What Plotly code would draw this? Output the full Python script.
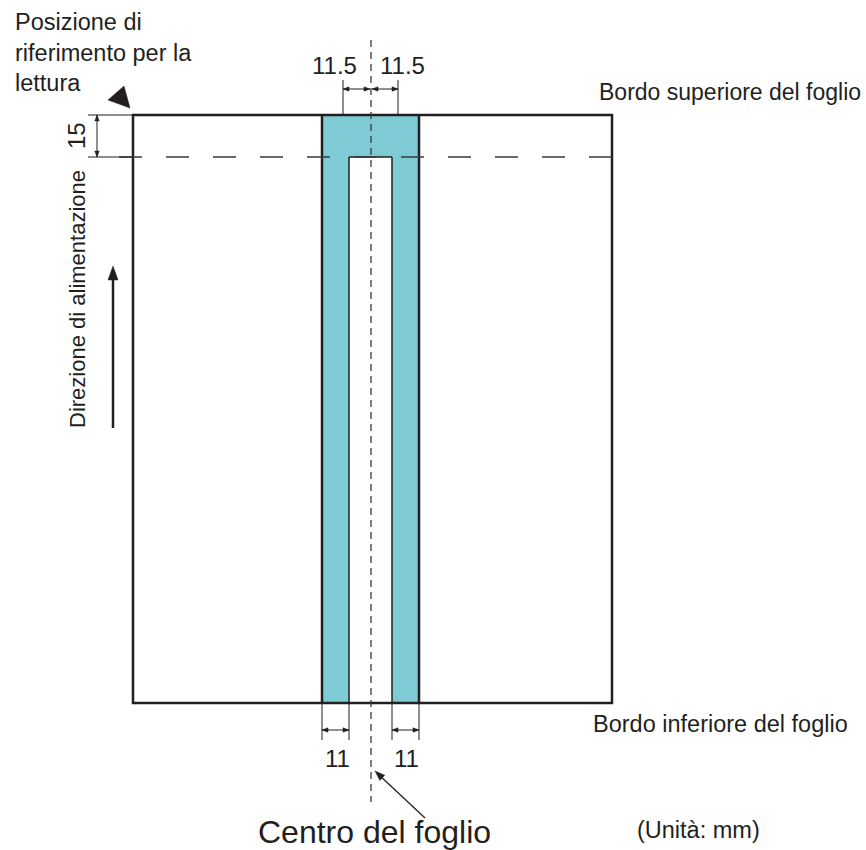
import math
import plotly.graph_objects as go

# ---- texts / dimension labels ----
labels_top = ["11.5", "11.5"]
labels_bottom = ["11", "11"]
label_side = "15"
title_ref = "Posizione di<br>riferimento per la<br>lettura"
label_top_edge = "Bordo superiore del foglio"
label_bottom_edge = "Bordo inferiore del foglio"
label_feed = "Direzione di alimentazione"
label_center = "Centro del foglio"
label_unit = "(Unità: mm)"

# ---- geometry (diagram coordinates, y downward) ----
sheet_x = [133, 612]
sheet_y = [115, 703]
blue_x = [322, 419]
white_x = [349, 392]
read_line_y = 157
center_x = 371
top_dim_x = [343, 398]

DARK = "#231f20"
BLUE = "#7ECBD6"
FONT = "Liberation Sans, Arial, sans-serif"

fig = go.Figure()
shapes = []
annots = []


def line(x0, y0, x1, y1, w=1.0, color=DARK, dash="solid"):
    shapes.append(dict(type="line", x0=x0, y0=y0, x1=x1, y1=y1, xref="x", yref="y",
                       line=dict(color=color, width=w, dash=dash), layer="above"))


def poly(pts, color=DARK):
    p = "M " + " L ".join(f"{a},{b}" for a, b in pts) + " Z"
    shapes.append(dict(type="path", path=p, xref="x", yref="y", fillcolor=color,
                       line=dict(color=color, width=0.5), layer="above"))


def head(xt, yt, dx, dy, L=6, hw=2.2):
    bx, by = xt - dx * L, yt - dy * L
    px, py = -dy * hw, dx * hw
    poly([(xt, yt), (bx + px, by + py), (bx - px, by - py)])


def dim(x0, y0, x1, y1):
    line(x0, y0, x1, y1, 1)
    d = math.hypot(x1 - x0, y1 - y0)
    ux, uy = (x1 - x0) / d, (y1 - y0) / d
    head(x1, y1, ux, uy)
    head(x0, y0, -ux, -uy)


def text(x, y, s, size=23.5, angle=0, xanchor="center", yanchor="middle", align="center"):
    annots.append(dict(x=x, y=y, xref="x", yref="y", text=s, showarrow=False, textangle=angle,
                       xanchor=xanchor, yanchor=yanchor, align=align,
                       font=dict(family=FONT, size=size, color=DARK)))


# blue band and white inner slot
shapes.append(dict(type="rect", x0=blue_x[0], x1=blue_x[1], y0=sheet_y[0], y1=sheet_y[1],
                   xref="x", yref="y", fillcolor=BLUE, line=dict(width=0), layer="below"))
shapes.append(dict(type="rect", x0=white_x[0], x1=white_x[1], y0=read_line_y, y1=sheet_y[1],
                   xref="x", yref="y", fillcolor="white", line=dict(width=0), layer="below"))

# inner slot edges
line(white_x[0], read_line_y, white_x[0], sheet_y[1], 1.5)
line(white_x[1], read_line_y, white_x[1], sheet_y[1], 1.5)
line(white_x[0], read_line_y, white_x[1], read_line_y, 1.5)
# blue outer edges
line(blue_x[0], sheet_y[0], blue_x[0], sheet_y[1], 2.5)
line(blue_x[1], sheet_y[0], blue_x[1], sheet_y[1], 2.5)

# sheet outline
shapes.append(dict(type="rect", x0=sheet_x[0], x1=sheet_x[1], y0=sheet_y[0], y1=sheet_y[1],
                   xref="x", yref="y", line=dict(color=DARK, width=2.5), layer="above"))

# reading line (dashed)
line(sheet_x[0] - 14, read_line_y, sheet_x[1], read_line_y, 1.3, "#3a3a3a", "23px,24px")

# center line (dashed)
line(center_x, 40, center_x, 802, 1.3, "#3a3a3a", "7px,5px")

# 15 dimension
line(88, sheet_y[0], sheet_x[0], sheet_y[0], 1)
line(88, read_line_y, sheet_x[0], read_line_y, 1)
dim(97, sheet_y[0], 97, read_line_y)
text(76, 136, label_side, size=24, angle=-90)

# top 11.5 dimensions
for xx in top_dim_x:
    line(xx, 80, xx, sheet_y[0], 1)
dim(top_dim_x[0], 89, center_x - 1, 89)
dim(center_x + 1, 89, top_dim_x[1], 89)
text(334, 65, labels_top[0], size=24)
text(402, 65, labels_top[1], size=24)

# bottom 11 dimensions
for xx in [blue_x[0], white_x[0], white_x[1], blue_x[1]]:
    line(xx, sheet_y[1], xx, 740, 1)
dim(blue_x[0], 730, white_x[0], 730)
dim(white_x[1], 730, blue_x[1], 730)
text(337, 758, labels_bottom[0], size=24)
text(406, 758, labels_bottom[1], size=24)

# reference triangle
poly([(124, 86), (108, 100), (130, 108)])

# feed direction arrow
line(113, 428, 113, 278, 2.5)
head(113, 266, 0, -1, L=14, hw=5)

# centre pointer arrow
line(425, 818, 378, 774, 1.3)
_d = math.hypot(425 - 375, 818 - 771)
head(375, 771, (375 - 425) / _d, (771 - 818) / _d, L=10, hw=3.5)

# texts
text(13, 7, title_ref, xanchor="left", yanchor="top", align="left")
text(597, 92, label_top_edge, size=23)
annots[-1].update(xanchor="left")
text(591, 724, label_bottom_edge, xanchor="left")
text(77, 299, label_feed, size=22, angle=-90)
text(374, 832, label_center, size=32)
text(698, 830, label_unit)

fig.update_layout(
    width=866, height=850, margin=dict(l=0, r=0, t=0, b=0),
    paper_bgcolor="white", plot_bgcolor="white", showlegend=False,
    xaxis=dict(range=[0, 866], visible=False, fixedrange=True),
    yaxis=dict(range=[850, 0], visible=False, fixedrange=True),
    shapes=shapes, annotations=annots,
)
fig.write_html("out.html", config={"displayModeBar": False},
               post_script="document.body.style.margin='0';document.body.style.overflow='hidden';")
